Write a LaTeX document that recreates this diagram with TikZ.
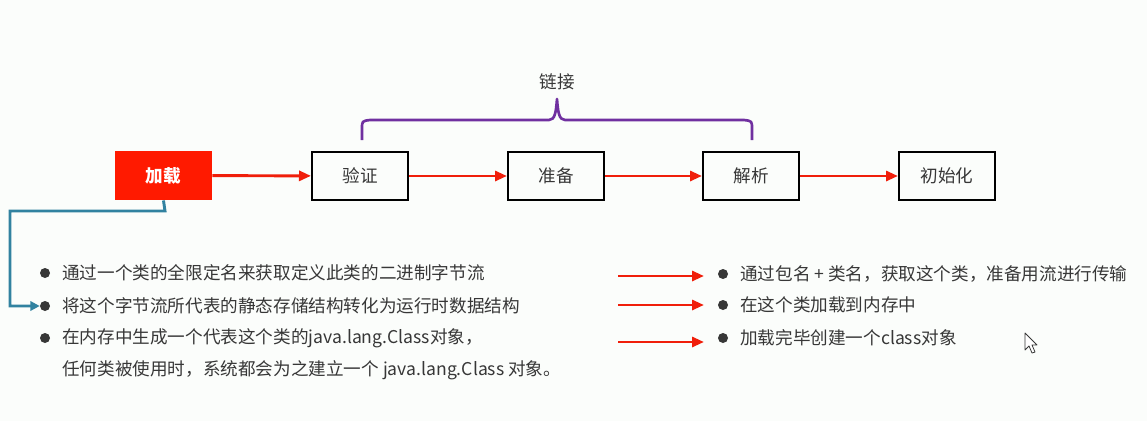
\documentclass[tikz,border=0pt]{standalone}
\usepackage{fontspec}
\setmainfont{Noto Sans CJK SC}
\usetikzlibrary{arrows.meta}
\definecolor{loadred}{RGB}{255,26,0}
\definecolor{flowred}{RGB}{240,30,10}
\definecolor{linkpurple}{RGB}{112,48,160}
\definecolor{pathblue}{RGB}{49,130,160}
\definecolor{inkgray}{RGB}{55,55,55}
\definecolor{paper}{RGB}{251,253,251}

\begin{document}
\begin{tikzpicture}[x=0.75pt,y=-0.75pt,
  txt/.style={font=\fontsize{13.2pt}{16pt}\selectfont, text=inkgray},
  stagebox/.style={txt, draw=black, line width=1.5pt, minimum width=72pt,
    minimum height=36pt, inner sep=0pt},
  loadbox/.style={fill=loadred, minimum width=73pt, minimum height=37pt,
    inner sep=0pt, text=white, font=\fontsize{13.2pt}{16pt}\selectfont\bfseries},
  flow/.style={draw=flowred, line width=2.2pt, -{Triangle[length=9pt,width=7.5pt]}},
  dot/.style={circle, fill=inkgray, minimum size=7.5pt, inner sep=0pt},
  item/.style={txt, anchor=west, inner sep=0pt},
]
% page background
\fill[paper] (0,0) rectangle (1147,421);

% stages of class loading
\node[loadbox]  (load)  at (163.5,175.5) {加载};
\node[stagebox] (verify) at (360,176) {验证};
\node[stagebox] (prep)   at (556,176) {准备};
\node[stagebox] (resolve) at (751,176) {解析};
\node[stagebox] (init)   at (947,176) {初始化};

\draw[flow] (load) -- (verify);
\draw[flow] (verify) -- (prep);
\draw[flow] (prep) -- (resolve);
\draw[flow] (resolve) -- (init);

% brace grouping the linking phase
\draw[linkpurple, line width=2pt, line join=round]
  (362,140) -- (362,129) .. controls (362,121) .. (370,120) -- (549,120)
  .. controls (555,120) and (556,112) .. (557,99)
  .. controls (558,112) and (559,120) .. (565,120) -- (744,120)
  .. controls (752,121) .. (752,129) -- (752,140);
\node[txt] (link) at (557,82) {链接};

% details of the loading step
\node[dot] (b1) at (45,273) {};
\node[dot] (b2) at (45,306) {};
\node[dot] (b3) at (45,338) {};
\node[item] (t1) at (62,273) {通过一个类的全限定名来获取定义此类的二进制字节流};
\node[item] (t2) at (62,306) {将这个字节流所代表的静态存储结构转化为运行时数据结构};
\node[item] (t3) at (62,338) {在内存中生成一个代表这个类的java.lang.Class对象，};
\node[item] (t4) at (62,370) {任何类被使用时，系统都会为之建立一个 java.lang.Class 对象。};

\draw[pathblue, line width=2.2pt, line join=miter, -{Triangle[length=7pt,width=7pt]}]
  (load.south) -- (165,211) -- (10,211) -- (10,306) -- (b2.west);

% plain-language explanations
\coordinate (a1) at (618,276);
\coordinate (a2) at (618,305);
\coordinate (a3) at (618,342);
\coordinate (e1) at (704,276);
\coordinate (e2) at (704,305);
\coordinate (e3) at (704,342);
\draw[flow] (a1) -- (e1);
\draw[flow] (a2) -- (e2);
\draw[flow] (a3) -- (e3);

\node[dot] (r1) at (723,274) {};
\node[dot] (r2) at (723,305) {};
\node[dot] (r3) at (723,338) {};
\node[item] (s1) at (740,274) {通过包名 + 类名，获取这个类，准备用流进行传输};
\node[item] (s2) at (740,305) {在这个类加载到内存中};
\node[item] (s3) at (740,338) {加载完毕创建一个class对象};

% mouse pointer
\draw[fill=white, draw=inkgray, line width=0.6pt, line join=round]
  (1025,333) -- (1025,350) -- (1029,346) -- (1032,353) -- (1035,352)
  -- (1032,345) -- (1037,345) -- cycle;
\end{tikzpicture}
\end{document}
